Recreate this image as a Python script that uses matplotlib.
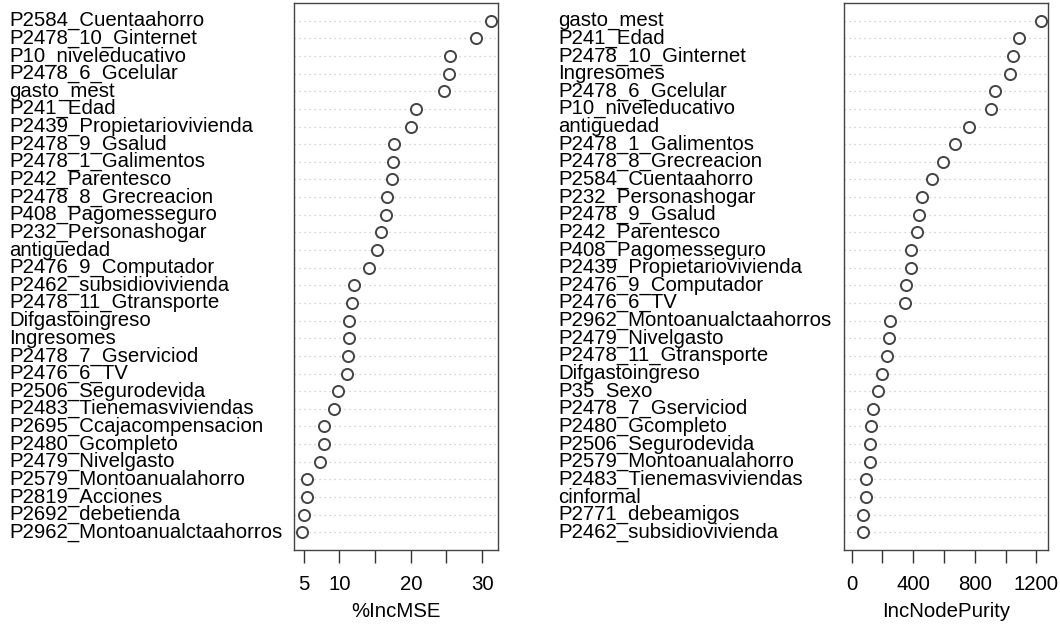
import matplotlib
matplotlib.use("Agg")
import matplotlib.pyplot as plt
import matplotlib.transforms as mtransforms

plt.rcParams['font.family'] = ['Liberation Sans', 'DejaVu Sans']

# %IncMSE, de haut en bas
mse_vars = ["P2584_Cuentaahorro", "P2478_10_Ginternet", "P10_niveleducativo",
            "P2478_6_Gcelular", "gasto_mest", "P241_Edad",
            "P2439_Propietariovivienda", "P2478_9_Gsalud", "P2478_1_Galimentos",
            "P242_Parentesco", "P2478_8_Grecreacion", "P408_Pagomesseguro",
            "P232_Personashogar", "antiguedad", "P2476_9_Computador",
            "P2462_subsidiovivienda", "P2478_11_Gtransporte", "Difgastoingreso",
            "Ingresomes", "P2478_7_Gserviciod", "P2476_6_TV", "P2506_Segurodevida",
            "P2483_Tienemasviviendas", "P2695_Ccajacompensacion", "P2480_Gcompleto",
            "P2479_Nivelgasto", "P2579_Montoanualahorro", "P2819_Acciones",
            "P2692_debetienda", "P2962_Montoanualctaahorros"]
mse_vals = [31.2, 29.2, 25.5, 25.3, 24.6, 20.8, 20.1, 17.6, 17.5, 17.4,
            16.6, 16.5, 15.8, 15.2, 14.2, 12.0, 11.8, 11.4, 11.4, 11.2,
            11.0, 9.8, 9.2, 7.9, 7.8, 7.3, 5.5, 5.5, 5.0, 4.7]

# IncNodePurity, de haut en bas
pur_vars = ["gasto_mest", "P241_Edad", "P2478_10_Ginternet", "Ingresomes",
            "P2478_6_Gcelular", "P10_niveleducativo", "antiguedad",
            "P2478_1_Galimentos", "P2478_8_Grecreacion", "P2584_Cuentaahorro",
            "P232_Personashogar", "P2478_9_Gsalud", "P242_Parentesco",
            "P408_Pagomesseguro", "P2439_Propietariovivienda", "P2476_9_Computador",
            "P2476_6_TV", "P2962_Montoanualctaahorros", "P2479_Nivelgasto",
            "P2478_11_Gtransporte", "Difgastoingreso", "P35_Sexo",
            "P2478_7_Gserviciod", "P2480_Gcompleto", "P2506_Segurodevida",
            "P2579_Montoanualahorro", "P2483_Tienemasviviendas", "cinformal",
            "P2771_debeamigos", "P2462_subsidiovivienda"]
pur_vals = [1228, 1085, 1048, 1028, 933, 904, 761, 669, 594, 524,
            454, 435, 422, 387, 385, 356, 346, 248, 241, 228,
            198, 170, 141, 128, 122, 117, 96, 91, 74, 72]

mse_ticks = [5, 10, 15, 20, 25, 30]
mse_ticklabels = ["5", "10", "", "20", "", "30"]
pur_ticks = [0, 200, 400, 600, 800, 1000, 1200]
pur_ticklabels = ["0", "", "400", "", "800", "", "1200"]

W, H = 1060, 627
FS = 14.7
fig = plt.figure(figsize=(W / 100, H / 100), dpi=100)


def dotchart(ax_left, label_x, names, vals, xlim, ticks, ticklabels, xlab):
    ax = fig.add_axes([ax_left / W, (H - 550) / H, 204.3 / W, 547 / H])
    n = len(vals)
    ys = [n - i for i in range(n)]
    for y in ys:
        ax.axhline(y, color='#c8c8c8', linestyle=(0, (1, 3)), linewidth=0.9, zorder=1)
    ax.plot(vals, ys, 'o', markersize=8, markerfacecolor='white',
            markeredgecolor='#444444', markeredgewidth=1.4, zorder=3)
    ax.set_ylim(0, n + 1)
    ax.set_xlim(*xlim)
    ax.set_yticks([])
    ax.set_xticks(ticks)
    ax.set_xticklabels(ticklabels)
    ax.tick_params(axis='x', direction='out', length=9, width=1, color='#333333',
                   labelsize=FS, pad=9)
    for s in ax.spines.values():
        s.set_color('#444444')
        s.set_linewidth(1.0)
    ax.set_xlabel(xlab, fontsize=FS, labelpad=6)
    tr = mtransforms.blended_transform_factory(fig.transFigure, ax.transData)
    for name, y in zip(names, ys):
        ax.text(label_x / W, y, name, transform=tr, ha='left', va='center',
                fontsize=FS, color='black')
    return ax


r = max(mse_vals) - min(mse_vals)
dotchart(294, 9, mse_vars, mse_vals,
         (min(mse_vals) - 0.04 * r, max(mse_vals) + 0.04 * r),
         mse_ticks, mse_ticklabels, "%IncMSE")
m = max(pur_vals)
dotchart(844, 558, pur_vars, pur_vals, (-0.04 * m, 1.04 * m),
         pur_ticks, pur_ticklabels, "IncNodePurity")

fig.savefig("out.png", dpi=100)
